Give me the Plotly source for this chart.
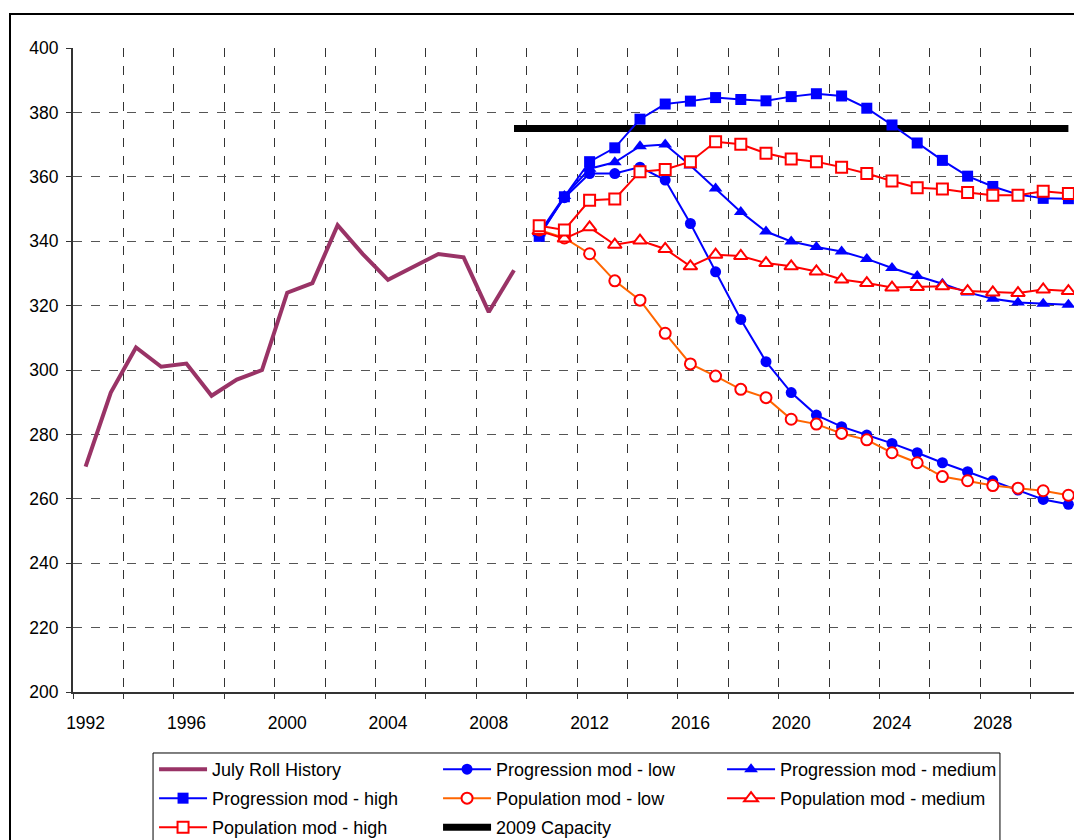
import plotly.graph_objects as go

hist_years = list(range(1992, 2010))
history = [270, 293, 307, 301, 302, 292, 297, 300, 324, 327, 345, 336, 328, 332, 336, 335, 318, 331]

proj_years = list(range(2010, 2032))
prog_low = [342, 353.5, 361, 361, 363, 359, 345.5, 330.5, 315.7, 302.6, 293.0, 286.0, 282.4, 279.8,
            277.2, 274.3, 271.2, 268.4, 265.6, 262.7, 259.8, 258.3]
prog_med = [342.5, 354, 362.5, 364.5, 369.5, 370, 363.5, 356.4, 349.1, 343.0, 339.9, 338.2, 336.8,
            334.5, 331.7, 329.2, 326.8, 324.1, 322.1, 321.0, 320.6, 320.3]
prog_high = [341.5, 353.8, 364.7, 369.0, 377.9, 382.6, 383.5, 384.6, 384.0, 383.6, 384.9, 385.8,
             385.1, 381.3, 376.1, 370.5, 365.1, 360.2, 357.0, 354.5, 353.3, 353.2]
pop_low = [343.5, 341, 336.1, 327.7, 321.7, 311.4, 301.9, 298.1, 294.0, 291.4, 284.7, 283.2, 280.3,
           278.3, 274.3, 271.2, 266.9, 265.6, 264.1, 263.3, 262.5, 261.1]
pop_med = [343.2, 340.8, 344.3, 338.9, 340.2, 337.6, 332.2, 335.8, 335.4, 333.2, 332.2, 330.6, 328.1,
           327.0, 325.6, 325.8, 326.0, 324.5, 324.1, 323.9, 325.0, 324.5]
pop_high = [344.8, 343.5, 352.7, 353.1, 361.6, 362.3, 364.7, 370.9, 370.1, 367.3, 365.5, 364.7, 363.0,
            361.0, 358.7, 356.6, 356.2, 355.1, 354.3, 354.3, 355.5, 354.8]

cap_years = list(range(2009, 2032))
capacity = [375] * len(cap_years)

x_labels = list(range(1992, 2029, 4))
y_ticks = list(range(200, 401, 20))

FONT = "Liberation Sans, Arial, sans-serif"
BLUE = "#0000FF"
RED = "#FF0000"
ORANGE = "#FF6600"

fig = go.Figure()

fig.add_trace(go.Scatter(x=cap_years, y=capacity, name="2009 Capacity", mode="lines",
                         line=dict(color="black", width=7), legend="legend3", legendrank=2))
fig.add_trace(go.Scatter(x=hist_years, y=history, name="July Roll History", mode="lines",
                         line=dict(color="#993366", width=4), legend="legend", legendrank=1))
fig.add_trace(go.Scatter(x=proj_years, y=prog_low, name="Progression mod - low", mode="lines+markers",
                         line=dict(color=BLUE, width=2),
                         marker=dict(symbol="circle", size=11, color=BLUE),
                         legend="legend", legendrank=2))
fig.add_trace(go.Scatter(x=proj_years, y=prog_med, name="Progression mod - medium", mode="lines+markers",
                         line=dict(color=BLUE, width=2),
                         marker=dict(symbol="triangle-up", size=12, color=BLUE),
                         legend="legend", legendrank=3))
fig.add_trace(go.Scatter(x=proj_years, y=prog_high, name="Progression mod - high", mode="lines+markers",
                         line=dict(color=BLUE, width=2),
                         marker=dict(symbol="square", size=11, color=BLUE),
                         legend="legend2", legendrank=1))
fig.add_trace(go.Scatter(x=proj_years, y=pop_low, name="Population mod - low", mode="lines+markers",
                         line=dict(color=ORANGE, width=2),
                         marker=dict(symbol="circle", size=11, color="white", line=dict(color=RED, width=2)),
                         legend="legend2", legendrank=2))
fig.add_trace(go.Scatter(x=proj_years, y=pop_med, name="Population mod - medium", mode="lines+markers",
                         line=dict(color=RED, width=2),
                         marker=dict(symbol="triangle-up", size=12, color="white", line=dict(color=RED, width=2)),
                         legend="legend2", legendrank=3))
fig.add_trace(go.Scatter(x=proj_years, y=pop_high, name="Population mod - high", mode="lines+markers",
                         line=dict(color=RED, width=2),
                         marker=dict(symbol="square", size=11, color="white", line=dict(color=RED, width=2)),
                         legend="legend3", legendrank=1))


def row_legend(ytop):
    return dict(orientation="h", x=0.0804, xanchor="left", y=ytop, yanchor="top",
                entrywidth=221, entrywidthmode="pixels", itemwidth=48, traceorder="normal",
                borderwidth=0, bgcolor="rgba(0,0,0,0)",
                font=dict(family=FONT, size=18, color="black"))


fig.update_layout(
    width=1074, height=832,
    margin=dict(l=65, r=1, t=40, b=148, autoexpand=False),
    paper_bgcolor="white", plot_bgcolor="white",
    font=dict(family=FONT, size=17.5, color="black"),
    showlegend=True,
    legend=row_legend(-0.0916),
    legend2=row_legend(-0.1366),
    legend3=row_legend(-0.1817),
    xaxis=dict(range=[1991.5, 2031.5], tickmode="array", tickvals=x_labels,
               ticktext=[str(v) for v in x_labels], ticks="", showgrid=False, zeroline=False,
               showline=True, linecolor="#333333", linewidth=2, ticklabelstandoff=14,
               tickfont=dict(family=FONT, size=17.5),
               minor=dict(tickmode="linear", tick0=1991.5, dtick=2, ticks="outside", ticklen=5,
                          tickcolor="#333333", showgrid=True, gridcolor="#333333",
                          griddash="dash", gridwidth=1)),
    yaxis=dict(range=[200, 400], tickmode="array", tickvals=y_ticks, ticks="outside", ticklen=5,
               tickcolor="#333333", showgrid=True, gridcolor="#555555", griddash="dash",
               gridwidth=1, zeroline=False, showline=True, linecolor="#333333", linewidth=2,
               ticklabelstandoff=4, tickfont=dict(family=FONT, size=17.5)),
)

# outer chart frame
fig.add_shape(type="rect", xref="paper", yref="paper", x0=-0.0625, x1=1.0, y0=-0.3, y1=1.0528,
              line=dict(color="black", width=2), fillcolor="rgba(0,0,0,0)", layer="below")
# legend box
fig.add_shape(type="rect", xref="paper", yref="paper", x0=0.0794, x1=0.9196, y0=-0.3, y1=-0.0947,
              line=dict(color="black", width=1), fillcolor="rgba(0,0,0,0)", layer="below")

fig.write_html("out.html")
